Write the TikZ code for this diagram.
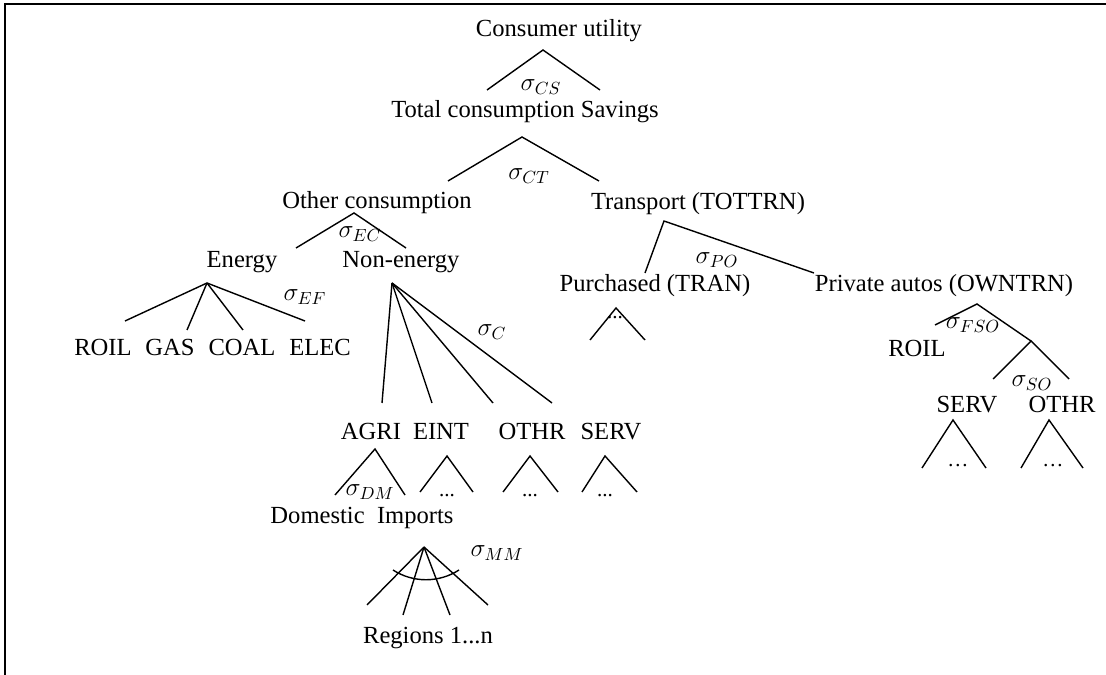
\documentclass[tikz,border=0pt]{standalone}
\usepackage{fontspec}
\setmainfont{Liberation Serif}
\begin{document}
\begin{tikzpicture}[x=0.02cm,y=-0.02cm,
    every node/.style={inner sep=0pt},
    lbl/.style={anchor=base,font=\fontsize{14}{16}\selectfont},
    sig/.style={font=\fontsize{14}{16}\selectfont},
    dots/.style={anchor=base,font=\fontsize{12}{14}\selectfont},
    branch/.style={line width=0.8pt}]
  \useasboundingbox (0,0) rectangle (1106,675);
  \clip (0,0) rectangle (1106,675);
  \draw[line width=1.1pt] (5,4) rectangle (1120,690);
  \draw
    (559,37) node[lbl] (util){Consumer utility}
    (525,118) node[lbl] (total){Total consumption Savings}
    (377,209) node[lbl] (other){Other consumption}
    (698,210) node[lbl] (trans){Transport (TOTTRN)}
    (242,268) node[lbl] (energy){Energy}
    (401,268) node[lbl] (nonen){Non-energy}
    (655,292) node[lbl] (tran){Purchased (TRAN)}
    (944,292) node[lbl] (owntrn){Private autos (OWNTRN)}
    (103,356) node[lbl] (roil){ROIL}
    (170,356) node[lbl] (gas){GAS}
    (242,356) node[lbl] (coal){COAL}
    (320,356) node[lbl] (elec){ELEC}
    (917,357) node[lbl] (roilo){ROIL}
    (967,413) node[lbl] (servo){SERV}
    (1062,413) node[lbl] (othro){OTHR}
    (371,440) node[lbl] (agri){AGRI}
    (441,440) node[lbl] (eint){EINT}
    (532,440) node[lbl] (othr){OTHR}
    (611,440) node[lbl] (serv){SERV}
    (362,523) node[lbl] (dom){Domestic\ \ Imports}
    (428,643) node[lbl] (regions){Regions 1...n};
  \draw
    (541,87) node[sig] (scs){$\sigma_{CS}$}
    (529,176) node[sig] (sct){$\sigma_{CT}$}
    (360,234) node[sig] (sec){$\sigma_{EC}$}
    (305,297) node[sig] (sef){$\sigma_{EF}$}
    (492,332) node[sig] (sc){$\sigma_{C}$}
    (717,260) node[sig] (spo){$\sigma_{PO}$}
    (973,325) node[sig] (sfso){$\sigma_{FSO}$}
    (1032,383) node[sig] (sso){$\sigma_{SO}$}
    (370,492) node[sig] (sdm){$\sigma_{DM}$}
    (497,553) node[sig] (smm){$\sigma_{MM}$};
  \draw
    (615,319) node[dots] (dtran){...}
    (447,497) node[dots] (deint){...}
    (530,497) node[dots] (dothr){...}
    (605,497) node[dots] (dserv){...}
    (958,467) node[dots] (dservo){\ldots}
    (1053,467) node[dots] (dothro){\ldots};
  % apexes and leg ends
  \coordinate (cs) at (543,50);   \coordinate (cs1) at (487,90);   \coordinate (cs2) at (600,90);
  \coordinate (ct) at (522,137);  \coordinate (ct1) at (448,181);  \coordinate (ct2) at (599,181);
  \coordinate (ec) at (354,213);  \coordinate (ec1) at (296,248);  \coordinate (ec2) at (406,248);
  \coordinate (ef) at (207,283);
  \coordinate (ef1) at (125,321); \coordinate (ef2) at (187,330);
  \coordinate (ef3) at (243,330); \coordinate (ef4) at (305,321);
  \coordinate (c) at (392,283);
  \coordinate (c1) at (382,403);  \coordinate (c2) at (432,403);
  \coordinate (c3) at (493,403);  \coordinate (c4) at (552,403);
  \coordinate (po) at (664,221);  \coordinate (po1) at (645,273);  \coordinate (po2) at (814,273);
  \coordinate (tr) at (616,308);  \coordinate (tr1) at (590,340);  \coordinate (tr2) at (645,340);
  \coordinate (fso) at (977,304); \coordinate (fso1) at (935,325);
  \coordinate (so) at (1031,341); \coordinate (so1) at (993,379);  \coordinate (so2) at (1069,379);
  \coordinate (sv) at (953,420);  \coordinate (sv1) at (922,468);  \coordinate (sv2) at (986,468);
  \coordinate (ot) at (1049,420); \coordinate (ot1) at (1021,468); \coordinate (ot2) at (1083,468);
  \coordinate (dm) at (375,449);  \coordinate (dm1) at (335,495);  \coordinate (dm2) at (405,495);
  \coordinate (ei) at (447,456);  \coordinate (ei1) at (420,492);  \coordinate (ei2) at (473,492);
  \coordinate (oh) at (530,456);  \coordinate (oh1) at (503,492);  \coordinate (oh2) at (558,492);
  \coordinate (se) at (605,456);  \coordinate (se1) at (582,492);  \coordinate (se2) at (637,492);
  \coordinate (mm) at (424,547);
  \coordinate (mm1) at (367,605); \coordinate (mm2) at (403,615);
  \coordinate (mm3) at (450,615); \coordinate (mm4) at (488,605);
  \coordinate (arc1) at (393,570); \coordinate (arc2) at (459,570);
  \begin{scope}[branch]
    \draw (cs1) -- (cs) -- (cs2);
    \draw (ct1) -- (ct) -- (ct2);
    \draw (ec1) -- (ec) -- (ec2);
    \draw (ef) -- (ef1);
    \draw (ef) -- (ef2);
    \draw (ef) -- (ef3);
    \draw (ef) -- (ef4);
    \draw (c) -- (c1);
    \draw (c) -- (c2);
    \draw (c) -- (c3);
    \draw (c) -- (c4);
    \draw (po1) -- (po) -- (po2);
    \draw (tr1) -- (tr) -- (tr2);
    \draw (fso1) -- (fso) -- (so);
    \draw (so1) -- (so) -- (so2);
    \draw (sv1) -- (sv) -- (sv2);
    \draw (ot1) -- (ot) -- (ot2);
    \draw (dm1) -- (dm) -- (dm2);
    \draw (ei1) -- (ei) -- (ei2);
    \draw (oh1) -- (oh) -- (oh2);
    \draw (se1) -- (se) -- (se2);
    \draw (mm) -- (mm1);
    \draw (mm) -- (mm2);
    \draw (mm) -- (mm3);
    \draw (mm) -- (mm4);
    \draw (arc1) .. controls (413,583) and (439,583) .. (arc2);
  \end{scope}
\end{tikzpicture}
\end{document}
